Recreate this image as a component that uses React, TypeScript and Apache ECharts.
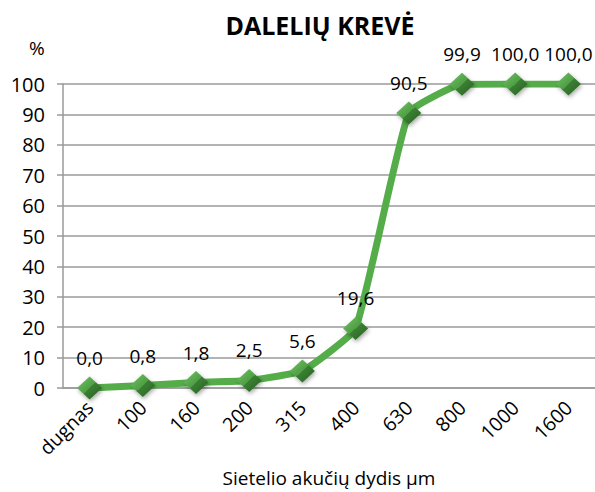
import React, { useEffect, useRef } from "react";
import * as echarts from "echarts";

const categories = ["dugnas", "100", "160", "200", "315", "400", "630", "800", "1000", "1600"];
const values = [0.0, 0.8, 1.8, 2.5, 5.6, 19.6, 90.5, 99.9, 100.0, 100.0];
const title = "DALELIŲ KREVĖ";
const xName = "Sietelio akučių dydis µm";
const yUnit = "%";

export default function App() {
  const ref = useRef<HTMLDivElement>(null);
  useEffect(() => {
    if (!ref.current) return;
    const chart = echarts.init(ref.current, null, { renderer: "svg" });
    const font = "'Open Sans', 'Noto Sans', sans-serif";
    chart.setOption({
      animation: false,
      backgroundColor: "#ffffff",
      title: {
        text: title,
        left: 315,
        textAlign: "center",
        top: 7,
        textStyle: { fontFamily: font, fontWeight: "bold", fontSize: 25, color: "#000" },
      },
      graphic: [
        {
          type: "text",
          left: 29,
          top: 38,
          style: { text: yUnit, font: `19px ${font}`, fill: "#000" },
        },
      ],
      grid: { left: 63, right: 0, top: 84, bottom: 104, containLabel: false, outerBoundsMode: "none" },
      xAxis: {
        type: "category",
        data: categories,
        boundaryGap: true,
        name: xName,
        nameLocation: "middle",
        nameGap: 80,
        nameTextStyle: { fontFamily: font, fontSize: 19, color: "#000" },
        axisLine: { lineStyle: { color: "#9a9a9a", width: 1.5 } },
        axisTick: { show: false },
        axisLabel: { rotate: 45, margin: 16, fontFamily: font, fontSize: 19.5, color: "#000" },
      },
      yAxis: {
        type: "value",
        min: 0,
        max: 100,
        interval: 10,
        axisLine: { show: true, lineStyle: { color: "#9a9a9a", width: 1.5 } },
        axisTick: { show: true, length: 6, lineStyle: { color: "#9a9a9a", width: 1.5 } },
        axisLabel: { margin: 18, fontFamily: font, fontSize: 20, color: "#000" },
        splitLine: { lineStyle: { color: "#9a9a9a", width: 1.5 } },
      },
      series: [
        {
          type: "line",
          data: values,
          smooth: 0.12,
          lineStyle: { color: "#55ad4a", width: 7 },
          symbol: "diamond",
          symbolSize: [25, 23],
          itemStyle: {
            color: new echarts.graphic.LinearGradient(0, 0, 1, 1, [
              { offset: 0, color: "#72c466" },
              { offset: 0.5, color: "#4f9e45" },
              { offset: 0.5, color: "#3b8034" },
              { offset: 1, color: "#26601f" },
            ]),
            shadowColor: "rgba(0,0,0,0.35)",
            shadowBlur: 4,
            shadowOffsetX: 1,
            shadowOffsetY: 2,
          },
          label: {
            show: true,
            position: "top",
            distance: 9,
            fontFamily: font,
            fontSize: 19,
            color: "#000",
            formatter: (p: any) => p.value.toFixed(1).replace(".", ","),
          },
        },
      ],
    });
    return () => chart.dispose();
  }, []);
  return <div ref={ref} style={{ position: "fixed", left: 0, top: 0, width: 595, height: 492 }} />;
}
